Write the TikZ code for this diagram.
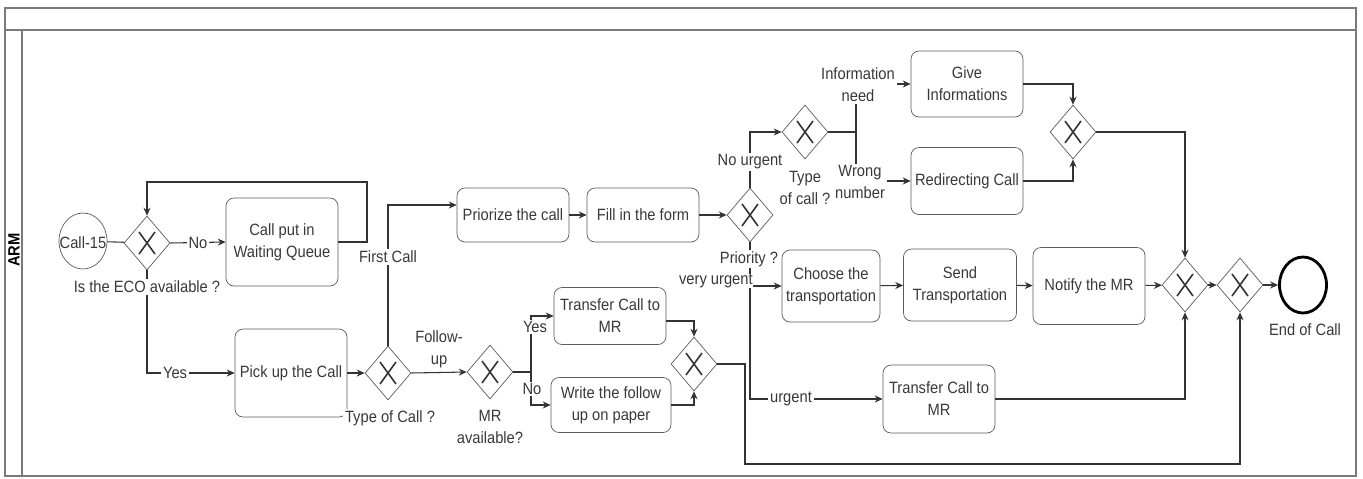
\documentclass[tikz,border=0pt]{standalone}
\usepackage{fontspec}
\setmainfont{Liberation Sans}[FakeStretch=0.9]
\usetikzlibrary{shapes.geometric,arrows.meta}

\definecolor{linegray}{HTML}{333333}
\definecolor{boxgray}{HTML}{5C5C5C}
\definecolor{framegray}{HTML}{7A7A7A}
\definecolor{textgray}{HTML}{383838}

\newcommand\lanefont{\fontsize{9.3}{12.5}\selectfont}

\tikzset{
	task/.style={draw=boxgray, rounded corners=0.16cm, align=center, minimum width=2.24cm, inner sep=1pt, text=textgray, font=\lanefont},
	gate/.style={diamond, draw=boxgray, minimum width=0.92cm, minimum height=1.08cm, inner sep=0pt,
		path picture={
			\draw[linegray, line width=0.9pt]
				([shift={(-0.16cm,-0.22cm)}]path picture bounding box.center) -- ([shift={(0.16cm,0.22cm)}]path picture bounding box.center)
				([shift={(-0.16cm,0.22cm)}]path picture bounding box.center) -- ([shift={(0.16cm,-0.22cm)}]path picture bounding box.center);
		}},
	flow/.style={draw=linegray, line width=0.6pt, -{Stealth[length=4.5pt,width=4pt]}},
	line/.style={draw=linegray, line width=0.6pt},
	lbl/.style={fill=white, inner sep=1pt, align=center, text=textgray, font=\lanefont},
}

\begin{document}
\begin{tikzpicture}[x=0.02cm, y=-0.02cm]
	\useasboundingbox (0,0) rectangle (1363,478);

	% pool and lane
	\draw[framegray, line width=1pt] (5,8) rectangle (1356,476);
	\draw[framegray, line width=1pt] (5,30) -- (1356,30);
	\draw[framegray, line width=1pt] (22,30) -- (22,476);
	\node[rotate=90, text=black, font=\bfseries\lanefont] (lane) at (14,250) {ARM};

	% events
	\node[ellipse, draw=boxgray, minimum width=0.96cm, minimum height=1.12cm, inner sep=0pt] (start) at (83,241) {};
	\node[text=textgray, font=\lanefont] (startname) at (83,243) {Call-15};
	\node[ellipse, draw=black, line width=1.6pt, minimum width=0.94cm, minimum height=1.12cm] (stop) at (1303,285) {};

	% tasks
	\node[task, minimum height=1.76cm] (queue) at (282,242) {Call put in\\Waiting Queue};
	\node[task, minimum height=1.76cm] (pick) at (291,373) {Pick up the Call};
	\node[task, minimum height=1.08cm] (prio) at (513,215) {Priorize the call};
	\node[task, minimum height=1.08cm] (form) at (643,215) {Fill in the form};
	\node[task, minimum height=1.14cm] (trmr) at (610,316) {Transfer Call to\\MR};
	\node[task, minimum width=2.4cm, minimum height=1.1cm] (write) at (611,405) {Write the follow\\up on paper};
	\node[task, minimum height=1.32cm] (info) at (967,84) {Give\\Informations};
	\node[task, minimum height=1.34cm] (redir) at (967,181) {Redirecting Call};
	\node[task, minimum width=1.96cm, minimum height=1.44cm] (choose) at (831,286) {Choose the\\transportation};
	\node[task, minimum width=2.26cm, minimum height=1.44cm] (send) at (960,285) {Send\\Transportation};
	\node[task, minimum height=1.54cm] (notify) at (1089,286) {Notify the MR};
	\node[task, minimum height=1.36cm] (trmrb) at (939,399) {Transfer Call to\\MR};

	% gateways
	\node[gate] (eco) at (147,243) {};
	\node[gate] (calltype) at (388,373) {};
	\node[gate] (mravail) at (490,372) {};
	\node[gate] (mrjoin) at (694,364) {};
	\node[gate] (priority) at (750,215) {};
	\node[gate] (needtype) at (805,132) {};
	\node[gate] (needjoin) at (1073,132) {};
	\node[gate] (urgjoin) at (1185,285) {};
	\node[gate] (endjoin) at (1240,285) {};

	% flows
	\draw[line] (start) -- (eco);
	\draw[flow] (eco.east) -- node[lbl] (no) {No} (queue.west);
	\draw[flow] (queue.east) -- (367,242) -- (367,182) -- (147,182) -- (eco.north);
	\draw[flow] (eco.south) |- node[lbl, pos=0.66] (yes) {Yes} (pick.west);
	\draw[flow] (pick.east) -- (calltype.west);
	\draw[flow] (calltype.north) |- ([yshift=0.2cm]prio.west);
	\draw[flow] (prio) -- (form);
	\draw[flow] (form) -- (priority);
	\draw[flow] (calltype.east) -- node[above=-1pt, align=center, text=textgray, font=\lanefont] (followup) {Follow-\\up} (mravail.west);
	\draw[flow] (mravail.east) -- (531,372) |- (trmr.west);
	\draw[flow] (mravail.east) -- (531,372) |- (write.west);
	\draw[flow] ([yshift=-0.1cm]trmr.east) -| (mrjoin.north);
	\draw[flow] (write.east) -| (mrjoin.south);
	\draw[flow] (mrjoin.east) -- (745,364) -- (745,464) -| (endjoin.south);
	\draw[flow] (priority.north) |- (needtype.west);
	\draw[flow] (priority.south) |- (choose.west);
	\draw[flow] (priority.south) |- (trmrb.west);
	\draw[line] (needtype.east) -- (856,132);
	\draw[flow] (856,132) |- (info.west);
	\draw[flow] (856,132) |- (redir.west);
	\draw[flow] (info.east) -| (needjoin.north);
	\draw[flow] (redir.east) -| (needjoin.south);
	\draw[flow] (needjoin.east) -| (urgjoin.north);
	\draw[flow] (choose) -- (send);
	\draw[flow] (send) -- (notify);
	\draw[flow] (notify) -- (urgjoin);
	\draw[flow] (trmrb.east) -| (urgjoin.south);
	\draw[flow] (urgjoin) -- (endjoin);
	\draw[flow] (endjoin) -- (stop);

	% labels over the flows
	\node[lbl] (ecoq) at (147,287) {Is the ECO available ?};
	\node[lbl] (first) at (388,257) {First Call};
	\node[lbl] (calltypeq) at (390,418) {Type of Call ?};
	\node[lbl] (mravailq) at (490,427) {MR\\available?};
	\node[lbl] (mryes) at (535,327) {Yes};
	\node[lbl] (mrno) at (532,389) {No};
	\node[lbl] (priorityq) at (749,259) {Priority ?};
	\node[lbl, anchor=east, inner sep=0pt] (veryurgent) at (753,281) {very urgent};
	\node[lbl] (urgent) at (791,399) {urgent};
	\node[lbl] (noturgent) at (750,162) {No urgent};
	\node[lbl, fill=none] (needtypeq) at (805,188) {Type\\of call ?};
	\node[lbl] (infoneed) at (858,85) {Information\\need};
	\node[lbl] (wrong) at (860,182) {Wrong\\number};
	\node[text=textgray, font=\lanefont] (endname) at (1305,330) {End of Call};
\end{tikzpicture}
\end{document}
